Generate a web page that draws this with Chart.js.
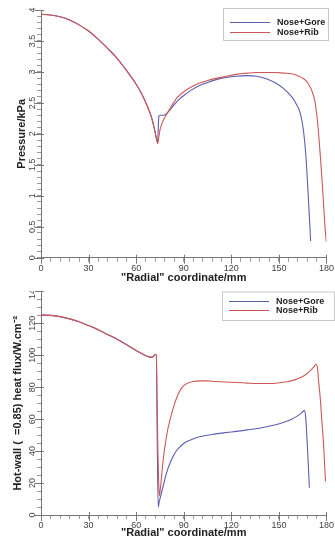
<!DOCTYPE html>
<html><head><meta charset="utf-8">
<script src="https://cdn.jsdelivr.net/npm/chart.js@4.4.1/dist/chart.umd.min.js"></script>
<style>
html,body{margin:0;padding:0;background:#fff;width:335px;height:541px;overflow:hidden;}
#top{position:absolute;left:0;top:0;width:335px;height:290px;}
#botWrap{position:absolute;left:0;top:291px;width:335px;height:250px;overflow:hidden;}
#bot{position:absolute;left:0;top:-21px;width:335px;height:271px;}
</style></head><body>
<div id="top"><canvas id="c1"></canvas></div>
<div id="botWrap"><div id="bot"><canvas id="c2"></canvas></div></div>
<script>
// ---------- data ----------
const seriesNames = ['Nose+Gore', 'Nose+Rib'];
const radialMajorTicks = [0, 30, 60, 90, 120, 150, 180];
const pressureMajorTicks = [0, 0.5, 1, 1.5, 2, 2.5, 3, 3.5, 4];
const heatMajorTicks = [0, 20, 40, 60, 80, 100, 120, 140];

// Pressure (kPa) vs radial coordinate (mm)
const pGoreX = [0, 6, 12, 18, 24, 30, 36, 42, 48, 54, 60, 64, 67, 69.5, 71.5, 72.8, 73.5, 74.3, 75, 77.5, 80, 83, 86, 90, 95, 100, 105, 111, 117, 123, 130, 136, 142, 148, 153, 158, 161, 163.5, 165.5, 167, 168.5, 170];
const pGoreY = [3.93, 3.92, 3.89, 3.84, 3.76, 3.66, 3.53, 3.38, 3.22, 3.02, 2.80, 2.62, 2.45, 2.28, 2.08, 1.92, 1.86, 2.28, 2.30, 2.30, 2.35, 2.44, 2.53, 2.62, 2.71, 2.78, 2.83, 2.88, 2.91, 2.93, 2.94, 2.93, 2.89, 2.82, 2.73, 2.60, 2.48, 2.33, 2.05, 1.65, 1.00, 0.27];
const pRibX = [0, 6, 12, 18, 24, 30, 36, 42, 48, 54, 60, 64, 67, 69.5, 71.5, 72.8, 73.5, 74.3, 75, 76, 77.5, 80, 83, 86, 90, 95, 100, 105, 111, 117, 123, 130, 136, 142, 148, 153, 158, 162, 165, 167, 169, 171, 172.5, 174, 175.2, 176.3, 177.4, 178.4, 179.2, 179.9];
const pRibY = [3.93, 3.92, 3.89, 3.84, 3.76, 3.66, 3.53, 3.38, 3.22, 3.02, 2.80, 2.62, 2.45, 2.28, 2.08, 1.92, 1.84, 1.95, 2.06, 2.15, 2.24, 2.35, 2.48, 2.59, 2.68, 2.76, 2.82, 2.86, 2.90, 2.93, 2.96, 2.98, 2.99, 2.99, 2.99, 2.98, 2.97, 2.94, 2.90, 2.86, 2.79, 2.68, 2.55, 2.28, 1.95, 1.58, 1.18, 0.77, 0.45, 0.26];

// Hot-wall heat flux (W/cm2) vs radial coordinate (mm)
const hGoreX = [0, 6, 12, 18, 24, 30, 36, 42, 48, 54, 60, 64, 67, 69.5, 71, 72, 72.7, 73.3, 73.9, 74.5, 75.5, 77, 78.5, 80, 82, 84, 86, 88.5, 91, 95, 100, 110, 120, 130, 140, 148, 154, 158, 161, 163.5, 165.2, 166, 166.8, 167.5, 168.2, 168.8, 169.2];
const hGoreY = [125.2, 125, 124.2, 122.8, 121, 118.6, 116, 113, 110, 106.6, 103, 100.8, 99.4, 98.7, 99.5, 100.5, 100.2, 45, 5, 8, 12, 18, 24, 29, 34, 38, 41, 43.5, 45.5, 47.3, 49, 50.8, 52, 53.3, 54.8, 56.5, 58.4, 60, 61.6, 63.3, 64.8, 65.5, 62, 52, 38, 26, 17];
const hRibX = [0, 6, 12, 18, 24, 30, 36, 42, 48, 54, 60, 64, 67, 69.5, 71, 72, 72.7, 73.2, 73.7, 74.2, 74.6, 75.2, 76, 77, 78, 79, 80, 82, 84, 86, 88, 90, 93, 96, 100, 105, 110, 120, 130, 140, 148, 155, 160, 164, 167, 170, 172, 173.5, 174.2, 175, 176, 177, 178, 178.8, 179.4];
const hRibY = [125.2, 125, 124.2, 122.8, 121, 118.6, 116, 113, 110, 106.6, 103, 100.8, 99.4, 98.7, 99.5, 100.5, 100.2, 70, 40, 20, 12, 16, 24, 34, 42, 48.5, 54, 62, 69, 74.5, 78.5, 81, 82.8, 83.6, 84, 84, 83.6, 83.1, 82.6, 82.3, 82.5, 83.4, 84.6, 86.2, 88, 90.5, 92.7, 94.4, 93, 84, 74, 60, 47, 32, 21];

// ---------- helpers ----------
const BLUE = '#5a5fae';
const RED = '#cf5656';
Chart.defaults.font.family = '"Liberation Sans", Arial, sans-serif';
Chart.defaults.color = '#444';

function pts(xs, ys) { return xs.map((x, i) => ({x: x, y: ys[i]})); }
function isMajor(v, list) { return list.some(m => Math.abs(m - v) < 1e-6); }

const boxLegend = {
  id: 'boxLegend',
  afterDraw(chart, args, o) {
    const ctx = chart.ctx;
    ctx.save();
    ctx.fillStyle = '#fff';
    ctx.fillRect(o.x, o.y, o.w, o.h);
    ctx.strokeStyle = '#c8c8c8';
    ctx.lineWidth = 1;
    ctx.strokeRect(o.x + 0.5, o.y + 0.5, o.w, o.h);
    chart.data.datasets.forEach((ds, i) => {
      const ly = Math.round(o.y + o.first + i * o.row) + 0.5;
      ctx.strokeStyle = ds.borderColor;
      ctx.beginPath();
      ctx.moveTo(o.x + 7, ly);
      ctx.lineTo(o.x + 47, ly);
      ctx.stroke();
      ctx.fillStyle = '#222';
      ctx.font = 'bold 9px "Liberation Sans", Arial, sans-serif';
      ctx.textBaseline = 'middle';
      ctx.fillText(ds.label, o.x + 54, ly);
    });
    ctx.restore();
  }
};

// longer major tick marks that cross the axis line
const majorTicks = {
  id: 'majorTicks',
  afterDraw(chart, args, o) {
    const ctx = chart.ctx;
    const xs = chart.scales.x, ys = chart.scales.y;
    const area = chart.chartArea;
    ctx.save();
    ctx.strokeStyle = '#777';
    ctx.lineWidth = 1;
    ctx.beginPath();
    radialMajorTicks.forEach(v => {
      const px = Math.round(xs.getPixelForValue(v)) + 0.5;
      ctx.moveTo(px, area.bottom - 3);
      ctx.lineTo(px, area.bottom + 6);
    });
    o.yMajor.forEach(v => {
      const py = Math.round(ys.getPixelForValue(v)) + 0.5;
      ctx.moveTo(area.left + 3, py);
      ctx.lineTo(area.left - 6, py);
    });
    ctx.stroke();
    ctx.restore();
  }
};

function makeChart(canvasId, cfg) {
  return new Chart(document.getElementById(canvasId), {
    type: 'line',
    data: {
      datasets: [
        {label: seriesNames[0], data: cfg.gore, borderColor: BLUE, order: 1},
        {label: seriesNames[1], data: cfg.rib, borderColor: RED, order: 0}
      ]
    },
    options: {
      responsive: true,
      maintainAspectRatio: false,
      animation: false,
      events: [],
      elements: {
        point: {radius: 0},
        line: {borderWidth: 1.1, cubicInterpolationMode: 'monotone', fill: false}
      },
      layout: {autoPadding: false, padding: {top: cfg.padTop, right: 4, left: 0, bottom: 0}},
      plugins: {
        legend: {display: false},
        tooltip: {enabled: false},
        boxLegend: cfg.legend,
        majorTicks: {yMajor: cfg.yMajor}
      },
      scales: {
        x: {
          type: 'linear', min: 0, max: 180,
          afterFit: s => { s.height = cfg.xHeight; },
          border: {display: true, color: '#777', width: 1},
          grid: {drawOnChartArea: false, drawTicks: true, tickLength: 4, tickColor: '#999'},
          ticks: {
            stepSize: 6, autoSkip: false, maxRotation: 0, minRotation: 0, padding: 1,
            font: {size: 9}, color: '#444',
            callback: v => isMajor(v, radialMajorTicks) ? String(v) : ''
          },
          title: {display: true, text: '"Radial" coordinate/mm', color: '#222',
                  font: {size: 11, weight: 'bold'}, padding: {top: 0, bottom: cfg.xTitlePad}}
        },
        y: {
          type: 'linear', min: 0, max: cfg.yMax,
          afterFit: s => { s.width = 41; },
          border: {display: true, color: '#777', width: 1},
          grid: {drawOnChartArea: false, drawTicks: true, tickLength: 4, tickColor: '#999'},
          ticks: {
            stepSize: cfg.yStep, autoSkip: false, minRotation: 90, maxRotation: 90,
            crossAlign: 'center', padding: cfg.yTickPad,
            font: {size: 9}, color: '#444',
            callback: v => isMajor(v, cfg.yMajor) ? String(Math.round(v * 10) / 10) : ''
          },
          title: {display: true, text: cfg.yTitle, color: '#222',
                  font: {size: 11, weight: 'bold'}, padding: {top: cfg.yTitlePad, bottom: 0}}
        }
      }
    },
    plugins: [boxLegend, majorTicks]
  });
}

makeChart('c1', {
  gore: pts(pGoreX, pGoreY), rib: pts(pRibX, pRibY),
  padTop: 10, xHeight: 32.3, yMax: 4, yStep: 0.1, yMajor: pressureMajorTicks,
  yTitle: 'Pressure/kPa', xTitlePad: 5.4, yTitlePad: 15, yTickPad: -1.5,
  legend: {x: 223, y: 8, w: 105, h: 32, first: 13.7, row: 10.6}
});

makeChart('c2', {
  gore: pts(hGoreX, hGoreY), rib: pts(hRibX, hRibY),
  padTop: 21.4, xHeight: 26, yMax: 140, yStep: 5, yMajor: heatMajorTicks,
  yTitle: 'Hot-wall (  =0.85) heat flux/W.cm\u207B\u00B2', xTitlePad: 1.9, yTitlePad: 10.9, yTickPad: -3.5,
  legend: {x: 222, y: 21.5, w: 112, h: 28.5, first: 9.5, row: 9}
});
</script>
</body></html>
